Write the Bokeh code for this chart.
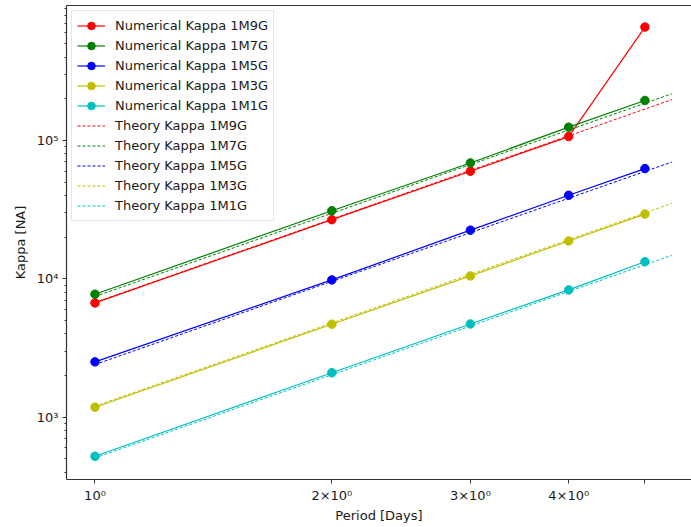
from bokeh.plotting import figure
from bokeh.models import (Range1d, FixedTicker, LogAxis, Legend, LegendItem)
from bokeh.embed import file_html
from bokeh.resources import INLINE

# Orbital period in days for the numerical runs
period = [1, 2, 3, 4, 5]

# Numerical kappa per run
num_1M9G = [6700, 26800, 60000, 106900, 662000]
num_1M7G = [7740, 31100, 68900, 125000, 195000]
num_1M5G = [2510, 9830, 22500, 40200, 62700]
num_1M3G = [1180, 4700, 10500, 18800, 29400]
num_1M1G = [521, 2095, 4720, 8320, 13300]

# Theory curves (straight in log-log), given at the ends of the period span
theory_period = [1, 5.41]
th_1M9G = [6750, 198000]
th_1M7G = [7450, 218000]
th_1M5G = [2400, 70000]
th_1M3G = [1200, 35100]
th_1M1G = [507, 14800]

names = ["1M9G", "1M7G", "1M5G", "1M3G", "1M1G"]
numerical = [num_1M9G, num_1M7G, num_1M5G, num_1M3G, num_1M1G]
theory = [th_1M9G, th_1M7G, th_1M5G, th_1M3G, th_1M1G]
colors = ["#ff0000", "#008000", "#0000ff", "#bfbf00", "#00bfbf"]

x_ticks = [1, 2, 3, 4, 5]
x_tick_labels = {1: "10\u2070", 2: "2\u00d710\u2070", 3: "3\u00d710\u2070",
                 4: "4\u00d710\u2070", 5: ""}
y_ticks = [1000, 10000, 100000]
y_tick_labels = {1000: "10\u00b3", 10000: "10\u2074", 100000: "10\u2075"}

FONT = "DejaVu Sans"
TEXT = "#1a1a1a"
SPINE = "#333333"

p = figure(width=691, height=527, x_axis_type="log", y_axis_type="log",
           x_range=Range1d(0.92, 5.73), y_range=Range1d(354, 948000),
           output_backend="svg", toolbar_location=None,
           min_border_left=66, min_border_right=0, min_border_top=5,
           min_border_bottom=48)
p.outline_line_color = None
p.xgrid.visible = False
p.ygrid.visible = False
p.background_fill_color = "white"
p.border_fill_color = "white"

minor_y = [m * 10 ** e for e in range(2, 6) for m in range(2, 10)]
p.xaxis.ticker = FixedTicker(ticks=x_ticks, minor_ticks=[])
p.yaxis.ticker = FixedTicker(ticks=y_ticks, minor_ticks=minor_y)
p.xaxis.major_label_overrides = x_tick_labels
p.yaxis.major_label_overrides = y_tick_labels

for ax in (p.xaxis, p.yaxis):
    ax.axis_line_color = SPINE
    ax.axis_line_width = 1.2
    ax.major_tick_line_color = SPINE
    ax.minor_tick_line_color = SPINE
    ax.major_tick_in = 0
    ax.minor_tick_in = 0
    ax.major_tick_out = 4
    ax.minor_tick_out = 2
    ax.major_label_text_font = FONT
    ax.major_label_text_font_size = "13px"
    ax.major_label_text_color = TEXT
    ax.axis_label_text_font = FONT
    ax.axis_label_text_font_size = "13px"
    ax.axis_label_text_font_style = "normal"
    ax.axis_label_text_color = TEXT
    ax.major_label_standoff = 4

p.xaxis.axis_label = "Period [Days]"
p.yaxis.axis_label = "Kappa [NA]"
p.xaxis.axis_label_standoff = 2
p.yaxis.axis_label_standoff = 6

# Top spine
top = LogAxis(ticker=FixedTicker(ticks=[], minor_ticks=[]),
              axis_line_color=SPINE, axis_line_width=1.2,
              major_tick_out=0, major_tick_in=0, minor_tick_out=0,
              minor_tick_in=0, major_label_standoff=0,
              major_label_text_font_size="0px")
p.add_layout(top, "above")

items_num = []
items_th = []
for name, ys, c in zip(names, numerical, colors):
    ln = p.line(period, ys, line_color=c, line_width=1.2)
    sc = p.scatter(period, ys, marker="circle", size=8.5,
                   fill_color=c, line_color=c)
    items_num.append(LegendItem(label="Numerical Kappa " + name,
                                renderers=[ln, sc]))

for name, ys, c in zip(names, theory, colors):
    ln = p.line(theory_period, ys, line_color=c, line_width=1.0,
                line_dash="3 2")
    items_th.append(LegendItem(label="Theory Kappa " + name, renderers=[ln]))

legend = Legend(items=items_num + items_th, location="top_left",
                label_text_font=FONT, label_text_font_size="13px",
                label_text_color=TEXT, glyph_width=28, glyph_height=19,
                label_height=19, spacing=1, padding=5, margin=5,
                label_standoff=10, border_line_color="#cccccc",
                border_line_width=1, background_fill_alpha=0.8)
p.add_layout(legend)

open("out.html", "w").write(file_html(p, INLINE))
